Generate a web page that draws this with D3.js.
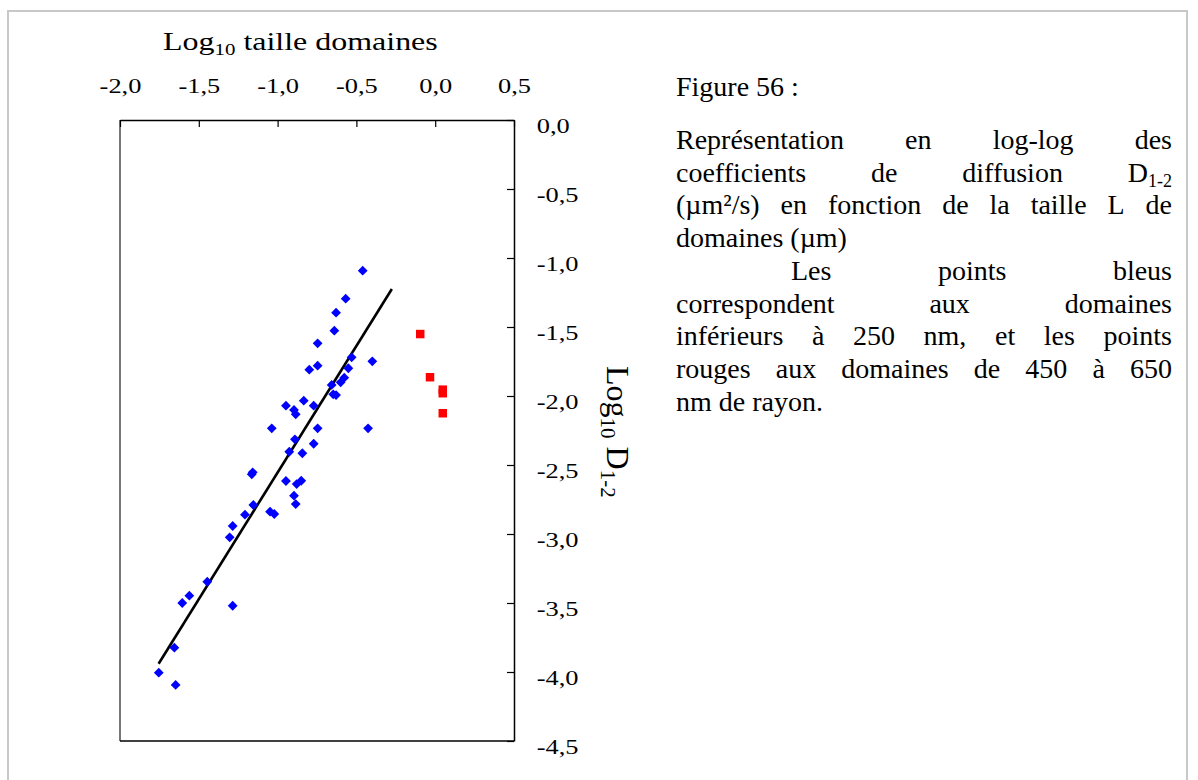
<!DOCTYPE html>
<html><head><meta charset="utf-8">
<script src="https://cdn.jsdelivr.net/npm/d3@7/dist/d3.min.js"></script>
<style>
html,body{margin:0;padding:0;background:#fff;}
</style></head>
<body><svg id="c" width="1198" height="780"></svg>
<script>
// ---- data ----
const blueX = [-0.460,-0.568,-0.629,-0.640,-0.746,-0.530,-0.399,-0.746,-0.799,-0.551,-0.577,-0.600,-0.657,-0.647,-0.629,-0.834,-0.947,-0.771,-0.896,-0.885,-1.037,-0.746,-0.426,-0.890,-0.771,-0.926,-0.843,-1.158,-1.164,-0.947,-0.879,-0.850,-0.896,-0.885,-1.154,-1.207,-1.048,-1.021,-1.285,-1.304,-1.446,-1.560,-1.605,-1.285,-1.655,-1.754,-1.647];
const blueY = [-1.092,-1.295,-1.396,-1.527,-1.618,-1.720,-1.749,-1.780,-1.809,-1.799,-1.867,-1.901,-1.920,-1.988,-1.993,-2.034,-2.070,-2.070,-2.101,-2.133,-2.234,-2.234,-2.234,-2.314,-2.346,-2.404,-2.415,-2.553,-2.567,-2.616,-2.638,-2.614,-2.722,-2.783,-2.790,-2.860,-2.838,-2.855,-2.942,-3.024,-3.346,-3.447,-3.500,-3.520,-3.824,-4.005,-4.094];
const redX = [-0.095,-0.033,0.048,0.048,0.048];
const redY = [-1.551,-1.864,-1.954,-1.980,-2.125];
const fitX = [-1.755,-0.275];
const fitY = [-3.94,-1.225];
const xTicks = [-2.0,-1.5,-1.0,-0.5,0.0,0.5];
const yTicks = [0.0,-0.5,-1.0,-1.5,-2.0,-2.5,-3.0,-3.5,-4.0,-4.5];
const captionTitle = "Figure 56 :";
const captionLines = [
  {w:["Représentation","en","log-log","des"], j:true},
  {w:["coefficients","de","diffusion","D₁₋₂"], j:true},
  {w:["(µm²/s)","en","fonction","de","la","taille","L","de"], j:true},
  {w:["domaines","(µm)"], j:false},
  {w:["Les","points","bleus"], j:true, indent:true},
  {w:["correspondent","aux","domaines"], j:true},
  {w:["inférieurs","à","250","nm,","et","les","points"], j:true},
  {w:["rouges","aux","domaines","de","450","à","650"], j:true},
  {w:["nm","de","rayon."], j:false}
];

// ---- layout ----
const FONT = "'Liberation Serif', 'Times New Roman', serif";
const svg = d3.select("#c").attr("font-family", FONT);
const L = 120, R = 514, T = 120, B = 741;
const SX = 1.2;
const x = d3.scaleLinear().domain([-2, 0.5]).range([L, R]);
const y = d3.scaleLinear().domain([0, -4.5]).range([T, B]);
const fmt = d => d3.format(".1f")(d).replace(".", ",").replace("−","-");

// outer frame
svg.append("rect").attr("x",8).attr("y",11).attr("width",1179).attr("height",800)
  .attr("fill","none").attr("stroke","#c8c8c8").attr("stroke-width",2);

// plot box
svg.append("line").attr("x1",L).attr("x2",L).attr("y1",T).attr("y2",B).attr("stroke","#777").attr("stroke-width",2);
svg.append("line").attr("x1",L).attr("x2",R).attr("y1",B).attr("y2",B).attr("stroke","#000").attr("stroke-width",1.5);

// top axis
const gx = svg.append("g").attr("transform",`translate(0,${T})`)
  .call(d3.axisTop(x).tickValues(xTicks).tickFormat(fmt).tickSizeInner(-7).tickSizeOuter(0).tickPadding(27));
gx.attr("font-family", FONT);
gx.select(".domain").attr("stroke","#000").attr("stroke-width",1.5);
gx.selectAll(".tick line").attr("stroke","#000").attr("stroke-width",1.2);
gx.selectAll(".tick text").attr("font-size",22).attr("font-family",FONT)
  .attr("transform",`scale(${SX},1)`);

// right axis
const gy = svg.append("g").attr("transform",`translate(${R},0)`)
  .call(d3.axisRight(y).tickValues(yTicks).tickFormat(fmt).tickSizeInner(-7).tickSizeOuter(0).tickPadding(19));
gy.attr("font-family", FONT);
gy.select(".domain").attr("stroke","#000").attr("stroke-width",1.5);
gy.selectAll(".tick line").attr("stroke","#000").attr("stroke-width",1.2);
gy.selectAll(".tick text").attr("font-size",22).attr("font-family",FONT)
  .attr("dy","0.55em").attr("transform",`scale(${SX},1)`);

// axis titles
const xt = svg.append("text").attr("font-family",FONT).attr("transform",`translate(163,50) scale(1.23,1)`).attr("font-size",26);
xt.append("tspan").text("Log");
xt.append("tspan").attr("font-size",17).attr("dy",5).text("10");
xt.append("tspan").attr("dy",-5).text(" taille domaines");

const yt = svg.append("text").attr("font-family",FONT).attr("transform",`translate(607,366) rotate(90)`).attr("font-size",32);
yt.append("tspan").text("Log");
yt.append("tspan").attr("font-size",21).attr("dy",6).text("10");
yt.append("tspan").attr("dy",-6).text(" D");
yt.append("tspan").attr("font-size",21).attr("dy",6).text("1-2");

// fit line
svg.append("line")
  .attr("x1",x(fitX[0])).attr("y1",y(fitY[0])).attr("x2",x(fitX[1])).attr("y2",y(fitY[1]))
  .attr("stroke","#000").attr("stroke-width",2.6);

// blue diamonds
const blue = blueX.map((v,i)=>({x:v,y:blueY[i]}));
svg.append("g").selectAll("path").data(blue).join("path")
  .attr("d", d3.symbol().type(d3.symbolSquare).size(48))
  .attr("transform", d=>`translate(${x(d.x)},${y(d.y)}) rotate(45)`)
  .attr("fill","#0000ff");

// red squares
const red = redX.map((v,i)=>({x:v,y:redY[i]}));
svg.append("g").selectAll("path").data(red).join("path")
  .attr("d", d3.symbol().type(d3.symbolSquare).size(72))
  .attr("transform", d=>`translate(${x(d.x)},${y(d.y)})`)
  .attr("fill","#ff0000");

// caption
const CX0 = 676, CX1 = 1172, FS = 28;
svg.append("text").attr("font-family",FONT).attr("x",CX0).attr("y",96).attr("font-size",FS).text(captionTitle);
captionLines.forEach((ln,li)=>{
  const by = 149 + li*32.7;
  const x0 = CX0 + (ln.indent ? 115 : 0);
  const g = svg.append("g");
  const nodes = ln.w.map(w=>{
    const t = g.append("text").attr("font-family",FONT).attr("y",by).attr("font-size",FS);
    if (w === "D₁₋₂") {
      t.append("tspan").text("D");
      t.append("tspan").attr("font-size",18).attr("dy",5).text("1-2");
    } else t.text(w);
    return t;
  });
  const widths = nodes.map(n=>n.node().getComputedTextLength());
  const total = d3.sum(widths);
  const space = FS*0.25;
  const gap = ln.j && nodes.length>1 ? (CX1 - x0 - total)/(nodes.length-1) : space;
  let cx = x0;
  nodes.forEach((n,i)=>{ n.attr("x",cx); if(n.selectAll("tspan").size()) n.select("tspan").attr("x",cx); cx += widths[i] + gap; });
});
</script></body></html>
